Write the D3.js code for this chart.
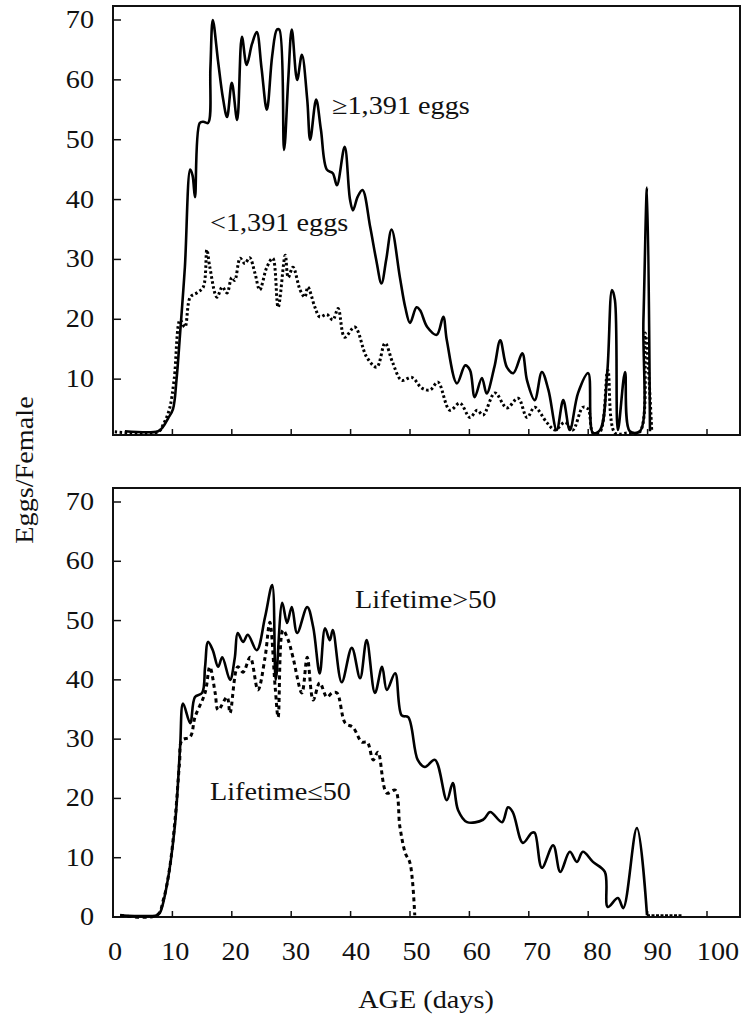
<!DOCTYPE html>
<html>
<head>
<meta charset="utf-8">
<script src="https://cdn.jsdelivr.net/npm/d3@7"></script>
<style>
  body { margin: 0; background: #fff; }
  text { font-family: "Liberation Serif", "Times New Roman", serif; fill: #111; }
</style>
</head>
<body>
<div id="container"></div>
<script>
// --- data ---
var xTicks = [0, 10, 20, 30, 40, 50, 60, 70, 80, 90, 100];
var yTicksTop = [10, 20, 30, 40, 50, 60, 70];
var yTicksBottom = [0, 10, 20, 30, 40, 50, 60, 70];

// top panel, >=1,391 eggs (solid)
var ageHigh = [2, 7.6, 8.4, 9.3, 10.1, 10.7, 11.3, 12.1, 13, 13.4, 13.8, 14.6, 15.2, 16, 16.4, 16.8, 17.7, 18.5, 19.2, 20, 20.9, 21.7, 22.5, 23.4, 24.2, 25, 25.9, 26.8, 27.6, 28, 28.8, 29.5, 30.1, 31, 31.8, 32.7, 33.2, 34.2, 35, 36, 37, 37.7, 39, 39.9, 40.4, 41.2, 42, 43.3, 44.3, 45.2, 46, 46.9, 48.3, 49.2, 50, 51.1, 51.7, 52.9, 54.5, 55.6, 56.2, 57.9, 59.3, 60.1, 60.9, 62.1, 62.9, 64.2, 65.2, 66.3, 67.4, 68.9, 69.7, 71, 72.2, 73.3, 74.7, 75.8, 76.9, 78.3, 80, 80.8, 82, 83.2, 84, 84.5, 85, 86.2, 87, 88.7, 89.3, 89.9, 90.4];
var eggsHigh = [1.3, 1.3, 2, 3.5, 5, 10, 17.7, 28.7, 45, 44, 40.4, 52.8, 53, 52.8, 62, 70, 63, 57, 53.8, 59.5, 53.3, 67.2, 62.5, 66, 68, 62, 55, 64, 68.4, 68.4, 48.3, 60, 68.4, 60, 64.2, 56.7, 50, 56.7, 51.7, 45, 44.4, 42.4, 48.8, 40, 38.2, 40.5, 41.6, 35.4, 30, 26, 30, 35, 27, 22, 19.4, 22, 21.5, 18.7, 17.4, 20.4, 16.5, 9.3, 12.3, 11.5, 7, 10.2, 7.6, 12, 16.5, 12, 11, 14.3, 9.8, 6.5, 11.2, 8.2, 1.5, 6.5, 1.5, 7.7, 11, 1, 1.5, 11, 24.9, 23.2, 1.5, 11.2, 1.3, 1.3, 20, 42, 1.3];

// top panel, <1,391 eggs (dotted)
var ageLow = [0.3, 7.6, 8.5, 9.5, 10.3, 11.3, 12.1, 13, 14.1, 15.2, 15.8, 16.3, 17.5, 18.4, 19.2, 20, 20.5, 21.4, 22.2, 23, 23.9, 24.7, 25.9, 26.9, 27.8, 29, 29.5, 30.3, 31.5, 32.3, 32.8, 34, 34.8, 36, 37, 37.9, 39, 40.7, 42.7, 44.4, 45.8, 47.1, 48.6, 50.3, 52, 53.4, 54.7, 56.7, 58.4, 60.1, 61.3, 62.3, 64.3, 66.3, 68.2, 69.7, 71, 73, 74.4, 76.1, 77.4, 79.1, 80, 80.8, 82, 83.3, 84.5, 86.5, 88.7, 89.6, 90.7];
var eggsLow = [1.2, 1.2, 2.5, 5, 10, 19.9, 18.7, 23.7, 24.4, 25.4, 31.6, 28.7, 23.7, 25.4, 24.4, 27, 26.5, 30.2, 29.3, 30.3, 27.7, 24.9, 28.7, 30.2, 22, 30.7, 27, 28.7, 24.9, 23.7, 25.4, 22, 20.4, 20.8, 19.9, 21.8, 17, 18.7, 13.7, 12, 16, 12.7, 9.8, 10.3, 8.5, 8.2, 9.5, 4.8, 6, 3.6, 4.8, 4, 7.7, 5.2, 6.8, 3.6, 5.3, 2.8, 1.5, 2.8, 1.5, 5.3, 5, 1, 1.2, 11.5, 1, 1, 1.2, 17.7, 1.2];

// bottom panel, Lifetime>50 (solid)
var ageLong = [1.2, 7.4, 7.9, 9, 10.4, 11.3, 11.8, 13, 13.8, 15, 15.5, 16, 16.8, 17.7, 18.4, 19.7, 20.5, 21, 21.9, 22.7, 24.2, 25.6, 26.8, 27.4, 28.5, 29.3, 30.1, 31, 32.7, 33.7, 34.8, 35.7, 36.5, 37, 38.5, 40.2, 41.6, 42.7, 44.1, 45.3, 46.1, 47.5, 48.6, 49.7, 51.3, 52.5, 54.2, 56.2, 57.2, 58.1, 59.6, 62.3, 63.5, 65.5, 66.5, 67.3, 69, 70.5, 71, 72.2, 74.1, 75.3, 76.9, 78.1, 79.1, 80.8, 82.8, 83.3, 85, 85.9, 88.2, 89.9];
var eggsLong = [0.3, 0.3, 0.7, 5, 15.2, 28.7, 36, 32.7, 37.1, 37.8, 42.2, 46.4, 45, 42.2, 43.8, 40, 43.7, 47.9, 46.4, 47.6, 45, 50.6, 56, 40, 53, 49.6, 52.3, 47.9, 52.3, 48.9, 41.1, 48.7, 46.7, 48.4, 39.6, 45.4, 40.3, 46.7, 37.8, 42.2, 38.3, 41.1, 34, 33.7, 26.5, 25.3, 26.5, 19.7, 22.6, 18, 16, 16.4, 17.7, 16, 18.5, 17.7, 12.5, 14.2, 14.2, 8.3, 12.1, 7.6, 11, 9.3, 11, 9.3, 7.6, 1.7, 3.2, 1.5, 15, 0.3];
// zero tail after the last egg
var ageTail = [89.9, 95.8];
var eggsTail = [0.3, 0.3];

// bottom panel, Lifetime<=50 (dashed)
var ageShort = [1.2, 7.4, 8.5, 9.5, 10.5, 11.2, 11.6, 13, 13.8, 15.5, 16.3, 17.2, 17.7, 19.2, 19.7, 21, 21.9, 23.1, 24.4, 25.6, 26.4, 27.3, 27.8, 28.6, 29.5, 30.3, 31.8, 32.7, 33.7, 34.8, 36, 36.9, 37.7, 39.1, 40.4, 41.9, 42.8, 43.8, 44.6, 46.1, 47.5, 48.3, 49.2, 50, 50.8];
var eggsShort = [0.3, 0.3, 3, 8, 17, 26, 29.8, 30.4, 33.7, 37.8, 42.2, 37.8, 34.9, 37.1, 34.4, 42.2, 41.3, 43.8, 38.3, 43.8, 49.7, 38.8, 33.7, 48.4, 46.7, 43.8, 37.8, 43.8, 36.6, 39.5, 37.1, 37.8, 37.8, 32.7, 32, 29.5, 29.5, 26.5, 27.8, 20.9, 21.4, 15.2, 10.8, 9.1, 0.3];

var W = 750, H = 1019;
var left = 113, right = 740;
var stretch = 1.13;

var svg = d3.select("#container").append("svg")
  .attr("width", W)
  .attr("height", H);

var x = d3.scaleLinear().domain([0, 100]).range([left, 707]);
// the printed labels drift a little right of their ticks
var xLab = d3.scaleLinear().domain([0, 100]).range([115, 718]);

function zip(a, b) {
  return a.map(function(d, i) { return [d, b[i]]; });
}

function label(g, txt, px, py, anchor, size) {
  g.append("text")
    .attr("transform", "translate(" + px + "," + py + ") scale(" + stretch + ",1)")
    .attr("text-anchor", anchor || "start")
    .style("font-size", (size || 25) + "px")
    .text(txt);
}

function panel(top, bottom, y, yTicks, series, showXLabels) {
  var g = svg.append("g");

  g.append("rect")
    .attr("x", left).attr("y", top)
    .attr("width", right - left).attr("height", bottom - top)
    .attr("fill", "none").attr("stroke", "#111").attr("stroke-width", 2);

  // y ticks point inward
  g.selectAll("line.yt").data(yTicks).enter().append("line")
    .attr("x1", left).attr("x2", left + 8)
    .attr("y1", function(d) { return y(d); })
    .attr("y2", function(d) { return y(d); })
    .attr("stroke", "#111").attr("stroke-width", 1.5);
  yTicks.forEach(function(d) {
    label(g, d, 94, y(d) + 8, "end");
  });

  // x ticks point up
  g.selectAll("line.xt").data(xTicks.slice(1)).enter().append("line")
    .attr("x1", function(d) { return x(d); })
    .attr("x2", function(d) { return x(d); })
    .attr("y1", bottom).attr("y2", bottom - 6)
    .attr("stroke", "#111").attr("stroke-width", 1.5);
  if (showXLabels) {
    xTicks.forEach(function(d) {
      label(g, d, xLab(d), bottom + 43, "middle");
    });
  }

  var line = d3.line()
    .curve(d3.curveCatmullRom.alpha(0.5))
    .x(function(d) { return x(d[0]); })
    .y(function(d) { return y(d[1]); });

  series.forEach(function(s) {
    g.append("path")
      .datum(zip(s.age, s.eggs))
      .attr("d", line)
      .attr("fill", "none")
      .attr("stroke", "#000")
      .attr("stroke-width", s.width)
      .attr("stroke-linejoin", "round")
      .attr("stroke-dasharray", s.dash || null);
  });
  return g;
}

// top panel
var yTop = d3.scaleLinear().domain([0, 70]).range([439, 20]);
var gTop = panel(6, 435, yTop, yTicksTop, [
  { age: ageLow, eggs: eggsLow, width: 3, dash: "2.5,2.5" },
  { age: ageHigh, eggs: eggsHigh, width: 2.6 }
], false);
label(gTop, "\u22651,391 eggs", 332, 114, "start");
label(gTop, "<1,391 eggs", 210, 231, "start");

// bottom panel
var yBot = d3.scaleLinear().domain([0, 70]).range([917, 502]);
var gBot = panel(488, 917, yBot, yTicksBottom, [
  { age: ageShort, eggs: eggsShort, width: 3, dash: "4,3.5" },
  { age: ageLong, eggs: eggsLong, width: 2.6 },
  { age: ageTail, eggs: eggsTail, width: 2, dash: "3,1.5" }
], true);
label(gBot, "Lifetime>50", 355, 608, "start");
label(gBot, "Lifetime\u226450", 210, 800, "start");

// axis titles
label(svg, "AGE (days)", 426, 1008, "middle");
svg.append("text")
  .attr("transform", "translate(33,470) rotate(-90) scale(" + stretch + ",1)")
  .attr("text-anchor", "middle")
  .style("font-size", "25px")
  .text("Eggs/Female");
</script>
</body>
</html>
